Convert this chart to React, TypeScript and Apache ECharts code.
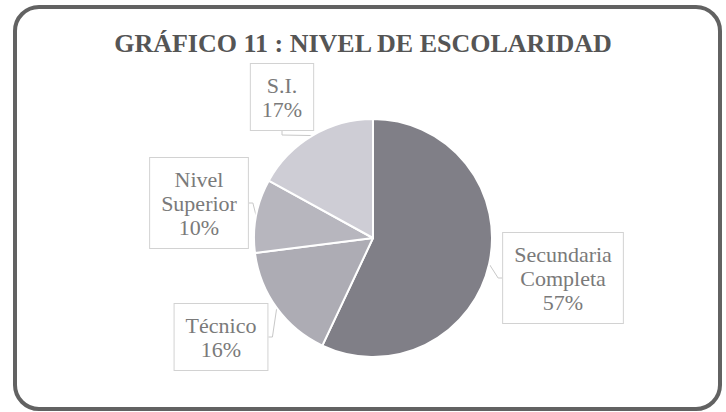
import React, { useEffect, useRef } from "react";
import * as echarts from "echarts";

const titleText = "GRÁFICO 11 : NIVEL DE ESCOLARIDAD";
const categories = ["Secundaria Completa", "Técnico", "Nivel Superior", "S.I."];
const values = [57, 16, 10, 17];

const sliceColors = ["#807f87", "#adacb4", "#b7b6be", "#cecdd5"];
// label box centres (layout only)
const labelCenters: [number, number][] = [
  [563, 278],
  [221, 337],
  [199, 203],
  [282, 97],
];

export default function App() {
  const ref = useRef<HTMLDivElement>(null);
  useEffect(() => {
    if (!ref.current) return;
    const chart = echarts.init(ref.current, undefined, { renderer: "svg" });
    chart.setOption({
      animation: false,
      backgroundColor: "#ffffff",
      graphic: [
        {
          type: "rect",
          shape: { x: 15, y: 7, width: 705, height: 402, r: 24 },
          style: { fill: "none", stroke: "#626262", lineWidth: 4 },
          silent: true,
          z: 0,
        },
        {
          type: "text",
          x: 363,
          y: 43,
          style: {
            text: titleText,
            fontFamily: "Liberation Serif",
            fontWeight: "bold",
            fontSize: 26,
            fill: "#555555",
            align: "center",
            verticalAlign: "middle",
          },
          silent: true,
        },
      ],
      series: [
        {
          type: "pie",
          center: [373, 238],
          radius: 119,
          startAngle: 90,
          clockwise: true,
          silent: true,
          itemStyle: { borderColor: "#ffffff", borderWidth: 2 },
          emphasis: { disabled: true },
          data: categories.map((name, i) => ({
            name,
            value: values[i],
            itemStyle: { color: sliceColors[i] },
          })),
          label: {
            show: true,
            position: "outside",
            formatter: (p: any) =>
              p.name.replace(" ", "\n") + "\n" + Math.round(p.percent) + "%",
            fontFamily: "Liberation Serif",
            fontSize: 22,
            lineHeight: 24,
            color: "#7a7a7a",
            align: "center",
            backgroundColor: "#ffffff",
            borderColor: "#d2d2d2",
            borderWidth: 1,
            padding: [9, 11],
          },
          labelLine: {
            show: true,
            length: 6,
            length2: 4,
            lineStyle: { color: "#c8c8c8", width: 1 },
          },
          labelLayout: (params: any) => {
            const c = labelCenters[params.dataIndex];
            return { x: c[0], y: c[1], align: "center", verticalAlign: "middle" };
          },
        },
      ],
    });
    return () => chart.dispose();
  }, []);
  return (
    <div
      ref={ref}
      style={{ position: "fixed", left: 0, top: 0, width: 726, height: 412 }}
    />
  );
}
